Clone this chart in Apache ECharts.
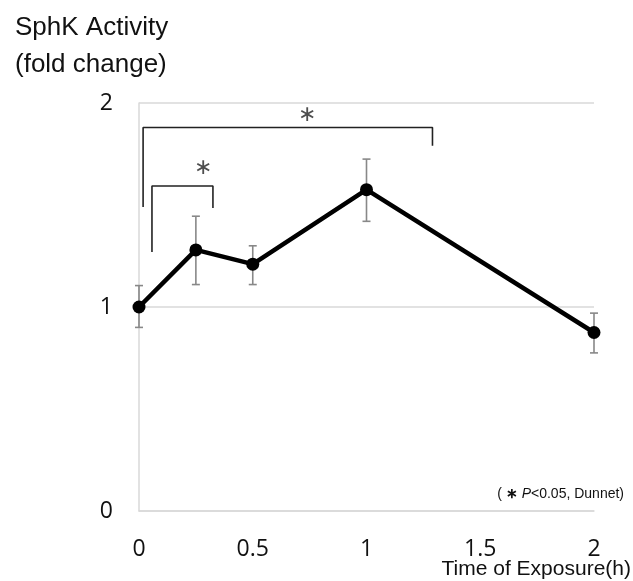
<!DOCTYPE html>
<html><head><meta charset="utf-8">
<script src="https://cdn.jsdelivr.net/npm/echarts@6/dist/echarts.min.js"></script>
<style>html,body{margin:0;padding:0;background:#fff}#c{width:633px;height:581px}</style>
</head><body><div id="c"></div>
<script>
const times = [0, 0.25, 0.5, 1, 2];
const means = [1.0, 1.28, 1.21, 1.575, 0.875];
const errLow = [0.90, 1.11, 1.11, 1.42, 0.775];
const errHigh = [1.105, 1.445, 1.30, 1.725, 0.97];
const xTicks = [0, 0.5, 1, 1.5, 2];
const yTicks = [0, 1, 2];
const xName = 'Time of Exposure(h)';
// significance brackets (data coords)
const bracketBig = [[0.018, 1.49], [0.018, 1.88], [1.29, 1.88], [1.29, 1.79]];
const bracketSmall = [[0.057, 1.27], [0.057, 1.593], [0.325, 1.593], [0.325, 1.485]];
const stars = [[0.74, 1.94], [0.28, 1.68]];

const chart = echarts.init(document.getElementById('c'), null, {renderer: 'canvas'});
const font = '"Liberation Sans", Arial, sans-serif';
const tickFont = '"Open Sans", "Liberation Sans", sans-serif';
chart.setOption({
  animation: false,
  backgroundColor: '#fff',
  grid: {left: 139, right: 39, top: 103, bottom: 70, containLabel: false, outerBoundsMode: 'none'},
  title: {
    text: 'SphK Activity\n(fold change)', left: 10, top: 4,
    textStyle: {fontFamily: font, fontSize: 26, fontWeight: 'normal', color: '#111', lineHeight: 37}
  },
  xAxis: {
    type: 'value', min: 0, max: 2, interval: 0.5,
    axisLine: {show: true, lineStyle: {color: '#d9d9d9', width: 1.5}},
    axisTick: {show: false}, splitLine: {show: false},
    axisLabel: {fontFamily: tickFont, fontSize: 23, color: '#111', margin: 27,
      formatter: v => xTicks.includes(v) ? String(v) : ''}
  },
  yAxis: {
    type: 'value', min: 0, max: 2, interval: 1,
    axisLine: {show: true, lineStyle: {color: '#d9d9d9', width: 1.5}},
    axisTick: {show: false},
    splitLine: {show: true, lineStyle: {color: '#d9d9d9', width: 1.5}},
    axisLabel: {fontFamily: tickFont, fontSize: 23, color: '#111', margin: 26,
      formatter: v => yTicks.includes(v) ? String(v) : ''}
  },
  graphic: [{
    type: 'text', right: 9, top: 487,
    style: {
      text: '{n|( }{s|∗ }{i|P}{n|<0.05, Dunnet)}',
      rich: {
        n: {fontFamily: font, fontSize: 14, fill: '#111'},
        s: {fontFamily: font, fontSize: 14, fill: '#111', fontWeight: 'bold'},
        i: {fontFamily: font, fontSize: 14, fill: '#111', fontStyle: 'italic'}
      }
    }
  }, {
    type: 'text', right: 2, top: 559,
    style: {text: xName, fontFamily: font, fontSize: 21, fill: '#111'}
  }],
  series: [
    {
      type: 'custom', z: 1,
      renderItem: (params, api) => {
        const x = api.value(0);
        const lo = api.coord([x, api.value(1)]);
        const hi = api.coord([x, api.value(2)]);
        const w = 4;
        const st = {stroke: '#888', lineWidth: 1.6};
        return {type: 'group', children: [
          {type: 'line', shape: {x1: lo[0], y1: lo[1], x2: hi[0], y2: hi[1]}, style: st},
          {type: 'line', shape: {x1: lo[0]-w, y1: lo[1], x2: lo[0]+w, y2: lo[1]}, style: st},
          {type: 'line', shape: {x1: hi[0]-w, y1: hi[1], x2: hi[0]+w, y2: hi[1]}, style: st}
        ]};
      },
      data: times.map((t, i) => [t, errLow[i], errHigh[i]])
    },
    {
      type: 'line', z: 3, data: times.map((t, i) => [t, means[i]]),
      symbol: 'circle', symbolSize: 13,
      lineStyle: {color: '#000', width: 4.5}, itemStyle: {color: '#000'}
    },
    {type: 'line', z: 2, data: bracketBig, symbol: 'none', lineStyle: {color: '#222', width: 1.6}},
    {type: 'line', z: 2, data: bracketSmall, symbol: 'none', lineStyle: {color: '#222', width: 1.6}},
    {
      type: 'scatter', z: 2, data: stars, symbolSize: 0,
      label: {show: true, position: 'inside', formatter: '∗', fontFamily: font, fontSize: 22, color: '#222'}
    }
  ]
});
</script></body></html>
